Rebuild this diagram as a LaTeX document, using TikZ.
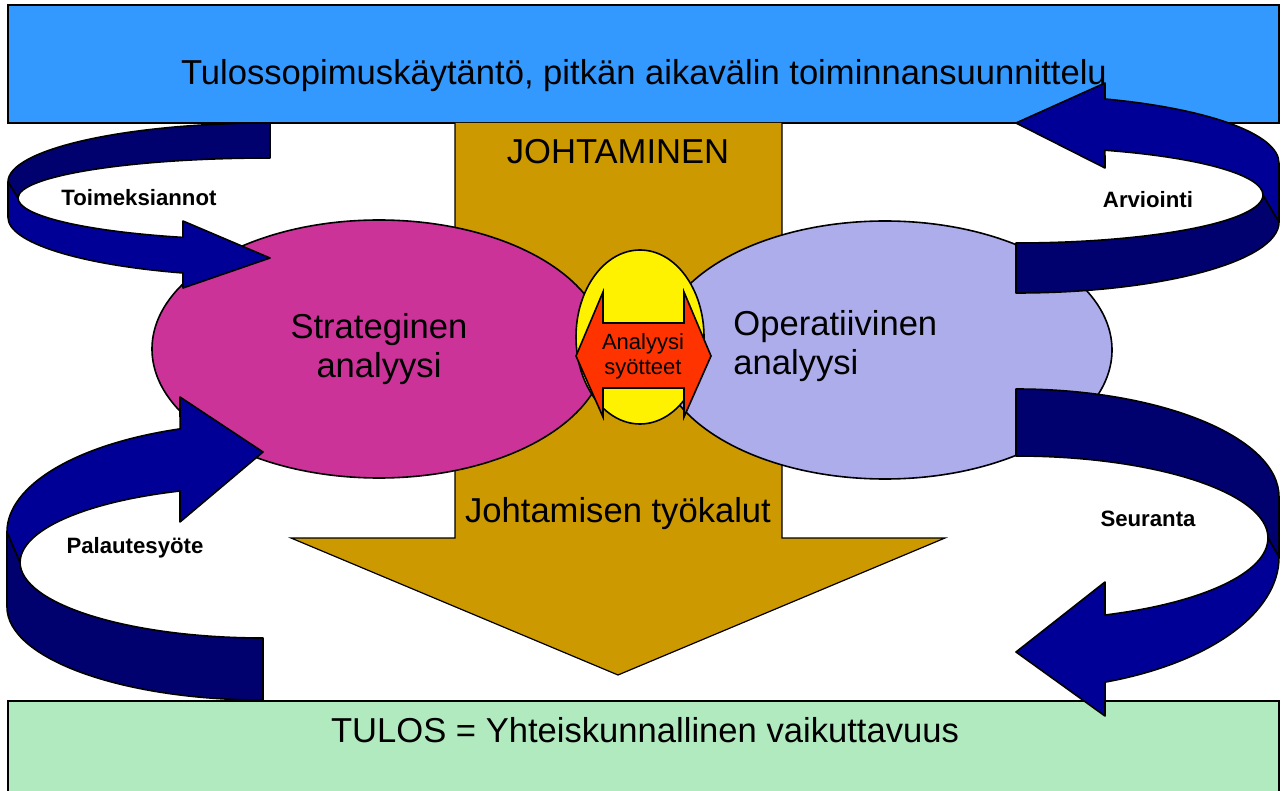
\documentclass[tikz,border=0pt]{standalone}
\usepackage{fontspec}
\setmainfont{Liberation Sans}
\usetikzlibrary{shapes.geometric}
\definecolor{planblue}{RGB}{51,153,255}
\definecolor{resultgreen}{RGB}{178,234,192}
\definecolor{leadbrown}{RGB}{204,153,0}
\definecolor{stratpink}{RGB}{204,51,153}
\definecolor{operlilac}{RGB}{173,173,235}
\definecolor{inputred}{RGB}{255,51,0}
\definecolor{loopfront}{RGB}{0,0,150}
\definecolor{loopback}{RGB}{0,0,110}
\newcommand{\bigfont}{\fontsize{17.3pt}{19.5pt}\selectfont}

\begin{document}
\begin{tikzpicture}[
  x=0.5pt, y=-0.5pt,
  framebox/.style={draw=black, line width=0.9pt, inner sep=0pt, minimum width=635.5pt},
  bigtxt/.style={font=\bigfont, inner sep=0pt},
  anaell/.style={ellipse, draw=black, line width=0.8pt, inner sep=0pt, minimum width=227pt, minimum height=129pt},
  leadarrow/.style={draw=black, line width=0.6pt, fill=leadbrown},
  backband/.style={draw=black, line width=0.8pt, fill=loopback, line join=round},
  frontband/.style={draw=black, line width=0.8pt, fill=loopfront, line join=round},
  looplabel/.style={font=\fontsize{11.1pt}{13pt}\selectfont\bfseries, inner sep=0pt, anchor=base}
]
\useasboundingbox (0,0) rectangle (1281,791);

% Frames: plan on top, result at the bottom
\node[framebox, fill=planblue, minimum height=59pt] (plan) at (643.5,64) {};
\node[bigtxt, anchor=base] (plantxt) at (644,85) {Tulossopimuskäytäntö, pitkän aikavälin toiminnansuunnittelu};
\node[framebox, fill=resultgreen, minimum height=60pt] (result) at (643.5,761) {};
\node[bigtxt, anchor=base] (resulttxt) at (645,742) {TULOS = Yhteiskunnallinen vaikuttavuus};

% Leadership arrow
\draw[leadarrow] (455,123) -- (455,538) -- (291,538) -- (618,675) -- (945,538) -- (782,538) -- (782,123);
\node[bigtxt, anchor=base] (leadtxt) at (618,164) {JOHTAMINEN};
\node[bigtxt, anchor=base] (tooltxt) at (618,523) {Johtamisen työkalut};

% Analyses
\node[anaell, fill=stratpink, font=\bigfont, align=center] (strat) at (379,349) {Strateginen\\analyysi};
\node[anaell, fill=operlilac] (oper) at (885,350) {};
\node[bigtxt, anchor=west, align=left] (opertxt) at (733,346) {Operatiivinen\\analyysi};

% Analysis inputs in between
\node[ellipse, draw=black, line width=0.8pt, fill=yellow, inner sep=0pt, minimum width=64pt, minimum height=87pt] (input) at (640,337) {};
\draw[draw=black, line width=0.8pt, fill=inputred]
  (576,356) -- (603,292) -- (603,323) -- (684,323) -- (684,292) -- (711,356)
  -- (684,417) -- (684,388) -- (603,388) -- (603,417) -- cycle;
\node[font=\fontsize{11pt}{12.5pt}\selectfont, align=center, inner sep=0pt] (inputtxt) at (643,356) {Analyysi\\syötteet};

% Loop: Toimeksiannot (plan -> strat)
\draw[backband] (270,123) arc[start angle=90, end angle=180, x radius=131pt, y radius=29.5pt]
  -- (18,198) arc[start angle=180, end angle=90, x radius=126pt, y radius=20pt] -- cycle;
\draw[frontband] (8,182) -- (18,198) arc[start angle=180, end angle=249.8, x radius=126pt, y radius=21pt]
  -- (183,221) -- (270,258) -- (183,288) -- (183,273)
  arc[start angle=250.6, end angle=180, x radius=131pt, y radius=29.5pt] -- cycle;
\node[looplabel] (assign) at (139,206) {Toimeksiannot};

% Loop: Palautesyote (result -> strat)
\draw[backband] (7,532) -- (7,607) arc[start angle=180, end angle=270, x radius=128pt, y radius=46.5pt]
  -- (263,638) arc[start angle=270, end angle=180, x radius=121.5pt, y radius=38pt] -- cycle;
\draw[frontband] (7,532) arc[start angle=180, end angle=108.9, x radius=128pt, y radius=54.5pt]
  -- (180,397) -- (263,452) -- (180,522) -- (180,491)
  arc[start angle=110, end angle=180, x radius=121.5pt, y radius=38pt] -- cycle;
\node[looplabel] (feedback) at (135,553) {Palautesyöte};

% Loop: Arviointi (oper -> plan)
\draw[backband] (1016,243) -- (1016,293) arc[start angle=270, end angle=360, x radius=131.5pt, y radius=35.5pt]
  -- (1263,195) arc[start angle=0, end angle=-90, x radius=123.5pt, y radius=24pt] -- cycle;
\draw[frontband] (1279,163) -- (1279,222) -- (1263,195)
  arc[start angle=0, end angle=68.9, x radius=123.5pt, y radius=24pt]
  -- (1105,168) -- (1016,123) -- (1105,83) -- (1105,99)
  arc[start angle=70.2, end angle=0, x radius=131.5pt, y radius=34pt] -- cycle;
\node[looplabel] (assess) at (1148,208) {Arviointi};

% Loop: Seuranta (oper -> result)
\draw[backband] (1016,389) arc[start angle=90, end angle=0, x radius=131.5pt, y radius=54pt]
  -- (1279,557) -- (1268,538) arc[start angle=0, end angle=90, x radius=126pt, y radius=41pt] -- cycle;
\draw[frontband] (1268,538) -- (1279,557)
  arc[start angle=0, end angle=-70.2, x radius=131.5pt, y radius=66.5pt]
  -- (1105,716) -- (1016,652) -- (1105,582) -- (1105,615)
  arc[start angle=-69.3, end angle=0, x radius=126pt, y radius=41pt] -- cycle;
\node[looplabel] (monitor) at (1148,526) {Seuranta};

\end{tikzpicture}
\end{document}
